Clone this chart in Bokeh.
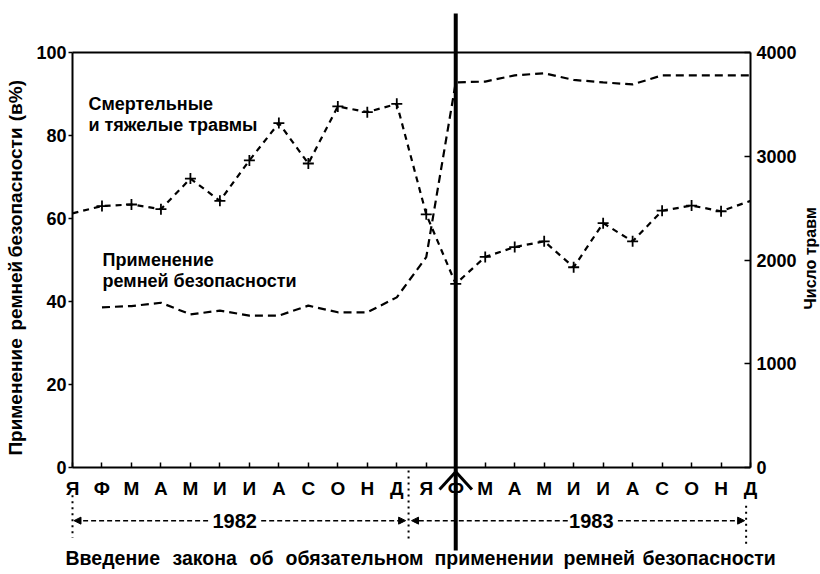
import math
from bokeh.plotting import figure
from bokeh.models import Range1d, LinearAxis, FixedTicker, Label, Arrow, NormalHead
from bokeh.embed import file_html
from bokeh.resources import INLINE

# ---------------- data ----------------
months = ["Я", "Ф", "М", "А", "М", "И", "И", "А", "С", "О", "Н", "Д",
          "Я", "Ф", "М", "А", "М", "И", "И", "А", "С", "О", "Н", "Д"]
month_idx = list(range(24))
# seat-belt usage, % (left axis)
belt_use_pct = [float("nan"), 38.6, 38.9, 39.7, 36.9, 37.8, 36.6, 36.6, 39.0, 37.4, 37.4, 41.0,
                50.7, 92.8, 93.0, 94.5, 95.0, 93.4, 92.8, 92.3, 94.5, 94.5, 94.5, 94.5]
# fatal and serious injuries (right axis)
injuries = [2450, 2520, 2535, 2490, 2785, 2570, 2960, 3320, 2930, 3480, 3425, 3505,
            2440, 1770, 2030, 2125, 2180, 1930, 2355, 2180, 2475, 2525, 2470, 2570]
left_ticks = [0, 20, 40, 60, 80, 100]
right_ticks = [0, 1000, 2000, 3000, 4000]
years = ["1982", "1983"]
law_month = 13
footer_words = ["Введение", "закона", "об", "обязательном", "применении", "ремней", "безопасности"]
left_title_words = ["Применение", "ремней", "безопасности", "(в%)"]
right_title = "Число травм"

FONT = "Liberation Sans"
W, H = 820, 574

# frame = whole canvas; axes are pinned with fixed_location
p = figure(width=W, height=H, x_range=Range1d(-2.4423, 25.373), y_range=Range1d(-25.78, 112.53),
           output_backend="svg", toolbar_location=None, min_border=0,
           min_border_left=0, min_border_right=0, min_border_top=0, min_border_bottom=0)
p.grid.visible = False
p.outline_line_color = None
p.background_fill_color = "white"
p.border_fill_color = "white"
p.extra_y_ranges = {"inj": Range1d(-1031.3, 4501.2)}

def style_axis(ax, size="18px"):
    ax.minor_tick_line_color = None
    ax.axis_line_width = 2
    ax.axis_line_color = "black"
    ax.major_tick_line_width = 1.5
    ax.major_tick_line_color = "black"
    ax.major_label_text_font = FONT
    ax.major_label_text_font_style = "bold"
    ax.major_label_text_font_size = size
    ax.major_label_text_color = "black"

# bottom axis (months)
xa = p.xaxis[0]
style_axis(xa, size="19px")
xa.fixed_location = 0
xa.bounds = (0, 23)
xa.ticker = FixedTicker(ticks=month_idx)
xa.major_label_overrides = {i: m for i, m in enumerate(months)}
xa.major_tick_in = 5
xa.major_tick_out = 0
xa.major_label_standoff = 10

# left axis (%)
ya = p.yaxis[0]
style_axis(ya)
ya.fixed_location = 0
ya.bounds = (0, 100)
ya.ticker = FixedTicker(ticks=left_ticks)
ya.major_tick_in = 0
ya.major_tick_out = 4
ya.major_label_standoff = 2

# right axis (injuries)
ra = LinearAxis(y_range_name="inj", ticker=FixedTicker(ticks=right_ticks))
style_axis(ra)
ra.fixed_location = 23
ra.bounds = (0, 4000)
ra.major_tick_in = 6
ra.major_tick_out = 0
ra.major_label_standoff = 6
p.add_layout(ra, "right")

# top frame line
ta = LinearAxis(ticker=FixedTicker(ticks=[]))
ta.fixed_location = 100
ta.bounds = (0, 23)
ta.axis_line_width = 2
ta.major_tick_line_color = None
ta.minor_tick_line_color = None
ta.major_label_text_font_size = "0px"
p.add_layout(ta, "above")

# belt usage line
p.line(month_idx, belt_use_pct, line_color="black", line_width=2.2, line_dash="8 5")
# injuries line with crosses
p.line(month_idx, injuries, y_range_name="inj", line_color="black", line_width=2.2, line_dash="6 5")
p.scatter(month_idx[1:23], injuries[1:23], y_range_name="inj", marker="cross", size=11,
          line_color="black", line_width=1.8)

def lab(x, y, text, size="18px", align="left", angle=0.0):
    p.add_layout(Label(x=x, y=y, text=text, text_font=FONT, text_font_style="bold",
                       text_font_size=size, text_align=align, text_baseline="middle",
                       text_color="black", angle=angle))

lab(0.54, 87.6, "Смертельные")
lab(0.54, 82.6, "и тяжелые травмы")
lab(1.02, 49.9, "Применение")
lab(1.02, 45.0, "ремней безопасности")

# axis titles (wide word spacing in the original -> words placed individually)
left_title_y = [17.0, 41.4, 66.3, 88.4]
for wy, word in zip(left_title_y, left_title_words):
    lab(-1.93, wy, word, size="19px", align="center", angle=math.pi / 2)
lab(25.05, 50.4, right_title, size="16px", align="center", angle=math.pi / 2)

def seg(x0, y0, x1, y1, w=1.5, dash="solid", head=False):
    p.add_layout(Arrow(x_start=x0, y_start=y0, x_end=x1, y_end=y1, line_color="black",
                       line_width=w, line_dash=dash,
                       end=NormalHead(size=7, fill_color="black", line_color="black") if head else None))

# law introduction line with chevron at the axis
p.segment(x0=[law_month], y0=[109.4], x1=[law_month], y1=[-20.0], line_color="black", line_width=4)
seg(law_month, -1.0, law_month - 0.55, -5.3, w=3)
seg(law_month, -1.0, law_month + 0.55, -5.3, w=3)

# year brackets
yb = -12.8
seg(0.0, -6.7, 0.0, -16.9, w=2, dash="2 4")
seg(11.4, -0.7, 11.4, -17.6, w=2, dash="2 4")
seg(22.85, -9.2, 22.85, -18.8, w=2, dash="2 4")
seg(4.6, yb, 0.05, yb, w=1.5, dash="5 3", head=True)
seg(6.4, yb, 11.3, yb, w=1.5, dash="5 3", head=True)
seg(16.8, yb, 11.5, yb, w=1.5, dash="5 3", head=True)
seg(18.5, yb, 22.8, yb, w=1.5, dash="5 3", head=True)
lab(5.5, yb, years[0], size="20px", align="center")
lab(17.6, yb, years[1], size="20px", align="center")

# footer: words placed individually (wide word spacing in the original)
footer_x = [-0.237, 3.392, 6.004, 7.225, 12.28, 16.655, 19.335]
for wx, word in zip(footer_x, footer_words):
    lab(wx, -21.9, word, size="19.5px", align="left")

open("out.html", "w").write(file_html(p, INLINE))
